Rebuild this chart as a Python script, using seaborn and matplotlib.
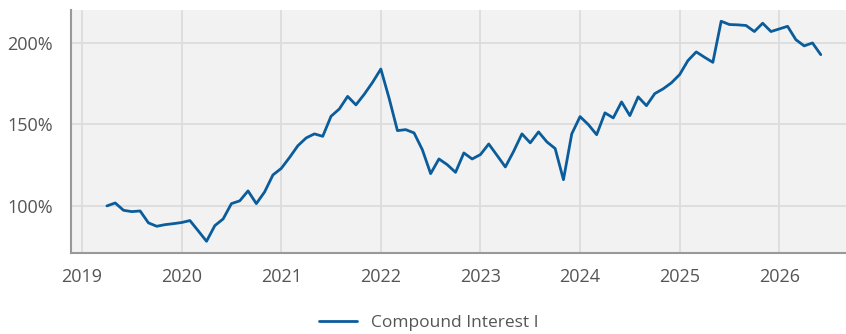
import matplotlib
matplotlib.use("Agg")
import matplotlib.pyplot as plt
import matplotlib.ticker as mticker
import numpy as np
import pandas as pd
import seaborn as sns

# Monthly index values (%), April 2019 through June 2026
start_year = 2019
start_month = 4
values = [
    # 2019 (Apr-Dec)
    100.0, 101.8, 97.3, 96.5, 96.9, 89.6, 87.5, 88.5, 89.1,
    # 2020
    89.8, 91.0, 84.7, 78.3, 87.9, 92.0, 101.4, 103.1, 109.2, 101.4, 108.6, 119.0,
    # 2021
    123.0, 129.7, 136.9, 141.7, 144.2, 142.7, 155.0, 159.5, 167.2, 162.0, 168.5, 175.8,
    # 2022
    184.0, 166.0, 146.2, 146.8, 144.8, 134.5, 119.8, 128.8, 125.3, 120.6, 132.5, 128.8,
    # 2023
    131.5, 138.0, 131.0, 123.9, 133.5, 144.2, 138.7, 145.4, 139.3, 135.2, 116.1, 144.2,
    # 2024
    154.8, 149.9, 143.7, 157.1, 154.0, 163.8, 155.4, 166.9, 161.5, 168.9, 171.8, 175.5,
    # 2025
    180.6, 189.2, 194.5, 191.2, 188.1, 213.3, 211.3, 211.1, 210.7, 207.0, 212.1, 207.0,
    # 2026 (Jan-Jun)
    208.6, 210.2, 202.0, 198.2, 200.0, 192.8,
]
series_name = "Compound Interest I"
year_ticks = [2019, 2020, 2021, 2022, 2023, 2024, 2025, 2026]
pct_ticks = [100, 150, 200]

# Decimal-year position for each monthly observation
months = np.arange(len(values))
t = start_year + (start_month - 1 + months) / 12.0
df = pd.DataFrame({"t": t, "value": values, "series": series_name})

sns.set_theme(style="white")
plt.rcParams["font.family"] = ["Open Sans", "DejaVu Sans"]

fig = plt.figure(figsize=(8.46, 3.34), dpi=100)
ax = fig.add_axes([0.084, 0.243, 0.916, 0.727])
ax.set_facecolor("#f2f2f2")

sns.lineplot(data=df, x="t", y="value", hue="series", palette=["#0b5c9b"],
             linewidth=2.0, ax=ax, legend=True)

ax.set_xlim(2018.89, 2026.67)
ax.set_ylim(71.2, 220.2)
ax.set_xticks(year_ticks)
ax.set_xticklabels([str(y) for y in year_ticks])
ax.set_yticks(pct_ticks)
ax.yaxis.set_major_formatter(mticker.FuncFormatter(lambda v, _: f"{v:.0f}%"))

ax.grid(True, color="#dcdcdc", linewidth=1.3)
ax.set_axisbelow(True)
ax.set_xlabel("")
ax.set_ylabel("")

for side in ("top", "right"):
    ax.spines[side].set_visible(False)
for side in ("left", "bottom"):
    ax.spines[side].set_color("#999999")
    ax.spines[side].set_linewidth(1.5)

ax.tick_params(axis="both", length=0, labelsize=13, labelcolor="#555555")
ax.tick_params(axis="x", pad=11)
ax.tick_params(axis="y", pad=13)

handles, labels = ax.get_legend_handles_labels()
ax.legend(handles, labels, loc="center", bbox_to_anchor=(0.507, 0.032),
          bbox_transform=fig.transFigure, frameon=False, fontsize=12.5,
          labelcolor="#555555", handlelength=2.2, handletextpad=0.8)

fig.savefig("out.png", dpi=100)
